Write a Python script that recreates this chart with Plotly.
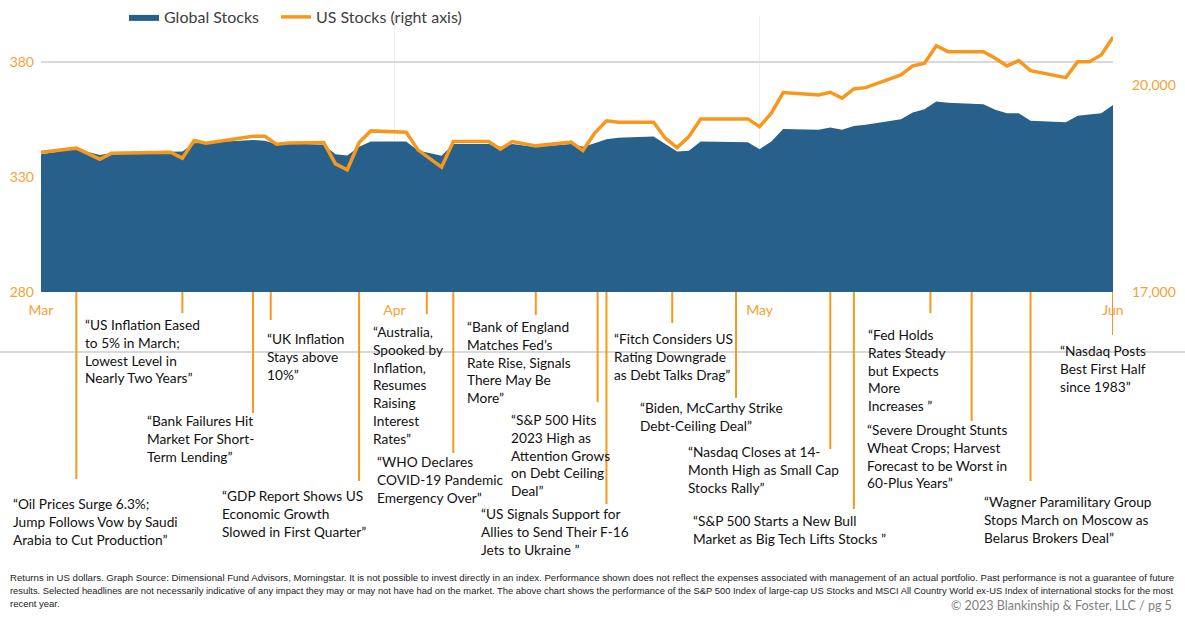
import plotly.graph_objects as go

# ---------------- data ----------------
dates = [
    "2023-03-31", "2023-04-03", "2023-04-05", "2023-04-06", "2023-04-11", "2023-04-12",
    "2023-04-13", "2023-04-14", "2023-04-18", "2023-04-19", "2023-04-20", "2023-04-21",
    "2023-04-24", "2023-04-25", "2023-04-26", "2023-04-27", "2023-04-28", "2023-05-01",
    "2023-05-02", "2023-05-04", "2023-05-05", "2023-05-08", "2023-05-09", "2023-05-10",
    "2023-05-12", "2023-05-15", "2023-05-16", "2023-05-17", "2023-05-18", "2023-05-19",
    "2023-05-22", "2023-05-23", "2023-05-24", "2023-05-25", "2023-05-26", "2023-05-30",
    "2023-05-31", "2023-06-01", "2023-06-02", "2023-06-05", "2023-06-06", "2023-06-07",
    "2023-06-08", "2023-06-09", "2023-06-12", "2023-06-13", "2023-06-14", "2023-06-15",
    "2023-06-16", "2023-06-19", "2023-06-20", "2023-06-21", "2023-06-22", "2023-06-23",
    "2023-06-26", "2023-06-27", "2023-06-28", "2023-06-29", "2023-06-30",
]
global_stocks = [
    339.9, 342.2, 339.6, 340.4, 341.0, 341.1, 344.7, 345.0,
    346.1, 345.8, 344.3, 344.7, 344.0, 339.9, 339.3, 343.2, 345.4,
    345.4, 341.5, 339.2, 344.3, 344.3, 343.2, 344.3, 343.0,
    344.3, 343.2, 344.7, 346.4, 347.1, 347.6, 344.3, 341.1, 341.4, 345.4,
    345.1, 342.1, 345.4, 350.9, 350.5, 351.5, 350.5, 352.2, 352.7,
    355.1, 358.0, 359.5, 362.8, 362.3, 361.6, 359.2, 357.7, 357.7, 354.5,
    353.8, 356.6, 357.3, 357.7, 361.3,
]
us_stocks = [
    19027, 19085, 18925, 19012, 19027, 18940, 19195, 19157,
    19258, 19258, 19143, 19161, 19166, 18857, 18771, 19166, 19335,
    19316, 19060, 18810, 19180, 19180, 19070, 19180, 19118,
    19172, 19050, 19302, 19480, 19461, 19461, 19229, 19093, 19253, 19509,
    19509, 19397, 19591, 19890, 19856, 19895, 19809, 19943, 19962,
    20146, 20276, 20315, 20570, 20483, 20483, 20388, 20276, 20353, 20208,
    20107, 20338, 20338, 20435, 20692,
]

month_ticks = ["2023-03-31", "2023-04-30", "2023-05-31", "2023-06-30"]
month_labels = ["Mar", "Apr", "May", "Jun"]
left_ticks = [280, 330, 380]
right_ticks = [17000, 20000]
right_tick_labels = ["17,000", "20,000"]

event_dates = [
    "2023-04-03", "2023-04-12", "2023-04-18", "2023-04-19 12:00", "2023-04-27",
    "2023-05-02 18:00", "2023-05-05", "2023-05-12", "2023-05-17 06:00", "2023-05-18",
    "2023-05-23 14:00", "2023-05-29", "2023-06-06", "2023-06-08", "2023-06-14 12:00",
    "2023-06-18", "2023-06-23", "2023-06-30",
]
headlines = [
    "“Oil Prices Surge 6.3%;<br>Jump Follows Vow by Saudi<br>Arabia to Cut Production”",
    "“US Inflation Eased<br>to 5% in March;<br>Lowest Level in<br>Nearly Two Years”",
    "“Bank Failures Hit<br>Market For Short-<br>Term Lending”",
    "“UK Inflation<br>Stays above<br>10%”",
    "“GDP Report Shows US<br>Economic Growth<br>Slowed in First Quarter”",
    "“Australia,<br>Spooked by<br>Inflation,<br>Resumes<br>Raising<br>Interest<br>Rates”",
    "“WHO Declares<br>COVID-19 Pandemic<br>Emergency Over”",
    "“Bank of England<br>Matches Fed’s<br>Rate Rise, Signals<br>There May Be<br>More”",
    "“S&amp;P 500 Hits<br>2023 High as<br>Attention Grows<br>on Debt Ceiling<br>Deal”",
    "“US Signals Support for<br>Allies to Send Their F-16<br>Jets to Ukraine ”",
    "“Fitch Considers US<br>Rating Downgrade<br>as Debt Talks Drag”",
    "“Biden, McCarthy Strike<br>Debt-Ceiling Deal”",
    "“Nasdaq Closes at 14-<br>Month High as Small Cap<br>Stocks Rally”",
    "“S&amp;P 500 Starts a New Bull<br>Market as Big Tech Lifts Stocks ”",
    "“Fed Holds<br>Rates Steady<br>but Expects<br>More<br>Increases ”",
    "“Severe Drought Stunts<br>Wheat Crops; Harvest<br>Forecast to be Worst in<br>60-Plus Years”",
    "“Wagner Paramilitary Group<br>Stops March on Moscow as<br>Belarus Brokers Deal”",
    "“Nasdaq Posts<br>Best First Half<br>since 1983”",
]

footnote_lines = [
    "Returns in US dollars. Graph Source: Dimensional Fund Advisors, Morningstar. It is not possible to invest "
    "directly in an index. Performance shown does not reflect the expenses associated with management of an actual "
    "portfolio. Past performance is not a guarantee of future",
    "results. Selected headlines are not necessarily indicative of any impact they may or may not have had on the "
    "market. The above chart shows the performance of the S&amp;P 500 Index of large-cap US Stocks and MSCI All "
    "Country World ex-US Index of international stocks for the most",
    "recent year.",
]
copyright_text = "© 2023 Blankinship &amp; Foster, LLC / pg 5"

# ---------------- layout geometry (pixels) ----------------
W, H = 1185, 621
L, R, T, B = 41, 72, 16, 329
PW, PH = W - L - R, H - T - B

def pxx(p):
    return (p - L) / PW

def pxy(p):
    return (H - B - p) / PH

# line end (y px) and text (left x px, middle y px) for each headline
line_end_y = [479, 313, 413, 320, 481, 314, 453, 315, 402, 504, 323, 398, 449, 509, 313, 421, 481, 335]
text_pos = [
    (11, 521), (83, 351), (145, 438), (265, 356), (220, 513.5), (371, 384.5),
    (375, 479), (465, 361.5), (509, 455), (479, 531.5), (612, 356), (638, 416.5),
    (686, 469.5), (691, 529.5), (866, 370), (865, 456), (982, 519.5), (1058, 368.5),
]
footnote_y = [577, 590.5, 604]
footnote_size = [9.65, 9.4, 9.5]

BLUE = "#28608C"
ORANGE = "#F7981D"
TICK_ORANGE = "#F5A233"
FONT = "Lato, Open Sans, sans-serif"

fig = go.Figure()
fig.add_trace(go.Scatter(
    x=dates, y=global_stocks, name="Global Stocks", mode="lines",
    fill="tozeroy", fillcolor=BLUE, line=dict(width=0, color=BLUE), yaxis="y",
    legend="legend",
))
fig.add_trace(go.Scatter(
    x=dates, y=us_stocks, name="US Stocks (right axis)", mode="lines",
    line=dict(width=3.5, color=ORANGE), yaxis="y2", legend="legend2",
))

shapes = [dict(type="line", xref="paper", yref="paper", x0=pxx(0), x1=pxx(W),
               y0=pxy(352), y1=pxy(352), line=dict(color="#D9D9D9", width=2), layer="below")]
for d, ye in zip(event_dates, line_end_y):
    shapes.append(dict(type="line", xref="x", yref="paper", x0=d, x1=d, y0=0, y1=pxy(ye),
                       line=dict(color=ORANGE, width=2)))

annotations = []
for txt, (tx, ty) in zip(headlines, text_pos):
    annotations.append(dict(text=txt, xref="paper", yref="paper", x=pxx(tx), y=pxy(ty),
                            xanchor="left", yanchor="middle", align="left", showarrow=False,
                            font=dict(family=FONT, size=13.7, color="#111111")))
for txt, fy, fs in zip(footnote_lines, footnote_y, footnote_size):
    annotations.append(dict(text=txt, xref="paper", yref="paper", x=pxx(8), y=pxy(fy),
                            xanchor="left", yanchor="middle", align="left", showarrow=False,
                            font=dict(family="Liberation Sans, Arial, sans-serif",
                                      size=fs, color="#222222")))
annotations.append(dict(text=copyright_text, xref="paper", yref="paper", x=pxx(1174), y=pxy(605),
                        xanchor="right", yanchor="middle", align="right", showarrow=False,
                        font=dict(family=FONT, size=12.5, color="#808080")))

legend_style = dict(orientation="h", yanchor="middle", xanchor="left", y=pxy(17),
                    font=dict(family=FONT, size=16, color="#404040"), bgcolor="rgba(0,0,0,0)")

fig.update_layout(
    width=W, height=H,
    margin=dict(l=L, r=R, t=T, b=B, autoexpand=False),
    paper_bgcolor="white", plot_bgcolor="white",
    showlegend=True,
    legend=dict(x=pxx(124), **legend_style),
    legend2=dict(x=pxx(276), **legend_style),
    xaxis=dict(type="date", range=[month_ticks[0], month_ticks[-1]], tickvals=month_ticks,
               ticktext=month_labels, showgrid=True, gridcolor="#EEEEEE", gridwidth=1,
               showline=False, zeroline=False, ticks="", ticklabelstandoff=8,
               tickfont=dict(family=FONT, size=14, color=TICK_ORANGE)),
    yaxis=dict(range=[280, 400], tickvals=left_ticks, showgrid=True, gridcolor="#D9D9D9",
               gridwidth=1.5, zeroline=False, showline=False, ticks="", ticklabelstandoff=6,
               tickfont=dict(family=FONT, size=14, color=TICK_ORANGE)),
    yaxis2=dict(range=[17000, 21000], tickvals=right_ticks, ticktext=right_tick_labels,
                overlaying="y", side="right", showgrid=False, zeroline=False, showline=False,
                ticks="", ticklabelstandoff=18,
                tickfont=dict(family=FONT, size=14, color=TICK_ORANGE)),
    shapes=shapes,
    annotations=annotations,
)

fig.write_html("out.html", config={"displayModeBar": False},
               post_script="document.body.style.margin='0';")
